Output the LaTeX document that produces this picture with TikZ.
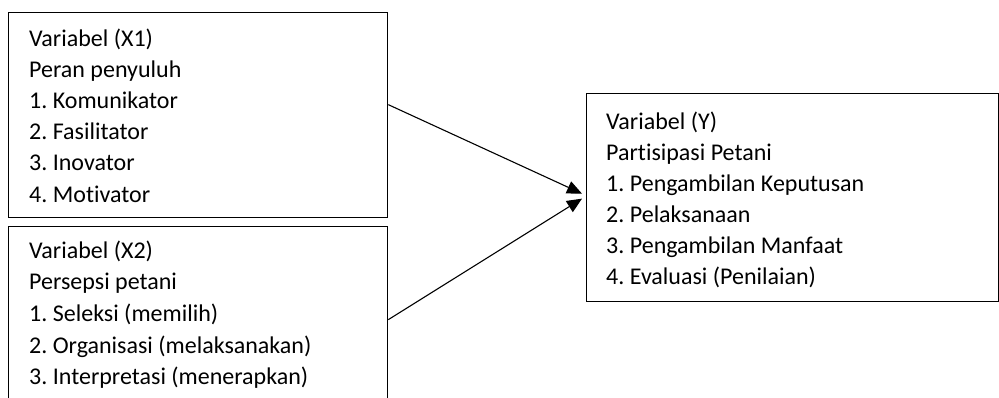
\documentclass[tikz,border=0pt]{standalone}
\usepackage{fontspec}
\setmainfont{Carlito}[Ligatures=NoCommon]
\usetikzlibrary{arrows.meta}
\begin{document}
\frenchspacing
\begin{tikzpicture}[x=1pt,y=-1pt,
  box/.style={draw=black,line width=1.3pt,anchor=north west,inner sep=0pt},
  txt/.style={anchor=base west,inner sep=0pt,font=\fontsize{24}{28}\selectfont},
  conn/.style={line width=1.1pt,-{Triangle[length=15pt,width=13pt]}}]
\useasboundingbox (0,0) rectangle (999,397);
\node[box,minimum width=379pt,minimum height=205pt] (x1) at (8,12) {};
\node[box,minimum width=379pt,minimum height=200pt] (x2) at (8,226) {};
\node[box,minimum width=412pt,minimum height=208pt] (y) at (586,93) {};
\foreach \t [count=\i] in {Variabel (X1),Peran penyuluh,1. Komunikator,2. Fasilitator,3. Inovator,4. Motivator}
  \node[txt] (xa\i) at (29,{46+31.2*(\i-1)}) {\t};
\foreach \t [count=\i] in {Variabel (X2),Persepsi petani,1. Seleksi (memilih),2. Organisasi (melaksanakan),3. Interpretasi (menerapkan)}
  \node[txt] (xb\i) at (29,{258+31.7*(\i-1)}) {\t};
\foreach \t [count=\i] in {Variabel (Y),Partisipasi Petani,1. Pengambilan Keputusan,2. Pelaksanaan,3. Pengambilan Manfaat,4. Evaluasi (Penilaian)}
  \node[txt] (ya\i) at (606,{129+31.1*(\i-1)}) {\t};
\coordinate (s1) at ([yshift=10.5pt]x1.east);
\coordinate (s2) at ([yshift=7pt]x2.east);
\coordinate (e1) at ([xshift=-4pt,yshift=4pt]y.west);
\coordinate (e2) at ([xshift=-4pt,yshift=-1pt]y.west);
\draw[conn] (s1) -- (e1);
\draw[conn] (s2) -- (e2);
\end{tikzpicture}
\end{document}
